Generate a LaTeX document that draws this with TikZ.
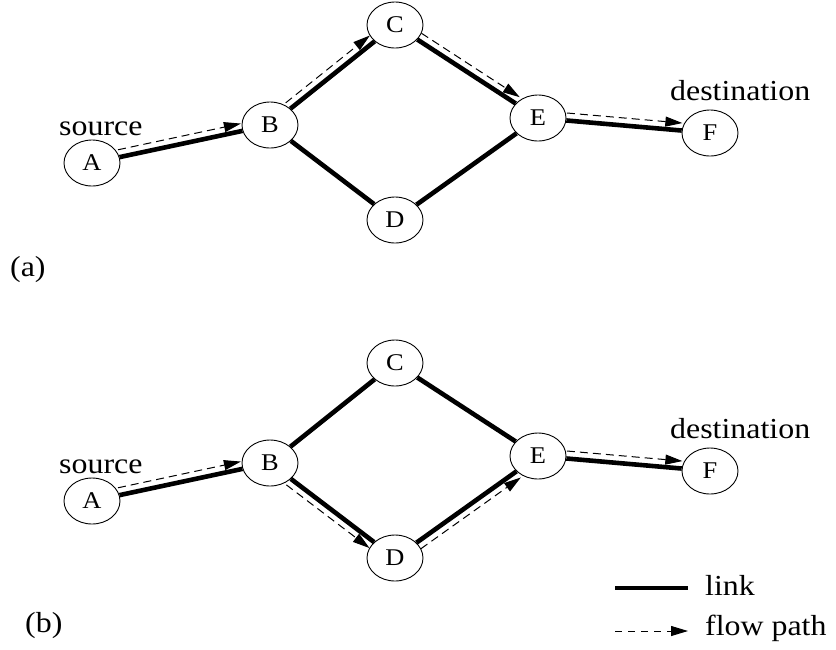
\documentclass[tikz,border=0pt]{standalone}
\usepackage{fontspec}
\setmainfont{Liberation Serif}[FakeStretch=1.1]
\usetikzlibrary{shapes.geometric,arrows.meta}
\begin{document}
\begin{tikzpicture}[x=1pt,y=1pt,
  netnode/.style={draw,line width=0.9pt,ellipse,minimum width=56pt,minimum height=46pt,inner sep=0pt,font=\fontsize{24}{28}\selectfont},
  lbl/.style={anchor=base west,inner sep=0pt,font=\fontsize{29}{34}\selectfont},
  link/.style={line width=4.6pt},
  flowpath/.style={line width=1pt,dash pattern=on 8pt off 5pt,-{Triangle[length=17pt,width=10pt]}}]
\useasboundingbox (0,0) rectangle (836,-649);
% (a)
\node[netnode] (A1) at (92,-163) {A};
\node[netnode] (B1) at (270,-125) {B};
\node[netnode] (C1) at (395,-25) {C};
\node[netnode] (D1) at (395,-220) {D};
\node[netnode] (E1) at (538,-118) {E};
\node[netnode] (F1) at (710,-133) {F};
\node[lbl] (src1) at (59,-135) {source};
\node[lbl] (dst1) at (670,-100) {destination};
\node[lbl] (la) at (10,-276) {(a)};
\draw[link] (A1) -- (B1);
\draw[link] (B1) -- (C1);
\draw[link] (B1) -- (D1);
\draw[link] (C1) -- (E1);
\draw[link] (D1) -- (E1);
\draw[link] (E1) -- (F1);
\draw[flowpath,transform canvas={shift={(102:7.5pt)}}] (A1) -- (B1);
\draw[flowpath,transform canvas={shift={(128.7:7.5pt)}}] (B1) -- (C1);
\draw[flowpath,transform canvas={shift={(57:7.5pt)}}] (C1) -- (E1);
\draw[flowpath,transform canvas={shift={(85:7.5pt)}}] (E1) -- (F1);
% (b)
\node[netnode] (A2) at (92,-501) {A};
\node[netnode] (B2) at (270,-463) {B};
\node[netnode] (C2) at (395,-363) {C};
\node[netnode] (D2) at (395,-558) {D};
\node[netnode] (E2) at (538,-456) {E};
\node[netnode] (F2) at (710,-471) {F};
\node[lbl] (src2) at (59,-473) {source};
\node[lbl] (dst2) at (670,-438) {destination};
\node[lbl] (lb) at (25,-632) {(b)};
\draw[link] (A2) -- (B2);
\draw[link] (B2) -- (C2);
\draw[link] (B2) -- (D2);
\draw[link] (C2) -- (E2);
\draw[link] (D2) -- (E2);
\draw[link] (E2) -- (F2);
\draw[flowpath,transform canvas={shift={(102:7.5pt)}}] (A2) -- (B2);
\draw[flowpath,transform canvas={shift={(-127.2:7.5pt)}}] (B2) -- (D2);
\draw[flowpath,transform canvas={shift={(-54.5:7.5pt)}}] (D2) -- (E2);
\draw[flowpath,transform canvas={shift={(85:7.5pt)}}] (E2) -- (F2);
% legend
\coordinate (l1s) at (615,-588);
\coordinate (l1e) at (688,-588);
\coordinate (l2s) at (615,-631);
\coordinate (l2e) at (688,-631);
\draw[link] (l1s) -- (l1e);
\draw[flowpath,dash pattern=on 7pt off 6pt] (l2s) -- (l2e);
\node[lbl] (tlink) at (705,-595) {link};
\node[lbl] (tflow) at (705,-635) {flow path};
\end{tikzpicture}
\end{document}
